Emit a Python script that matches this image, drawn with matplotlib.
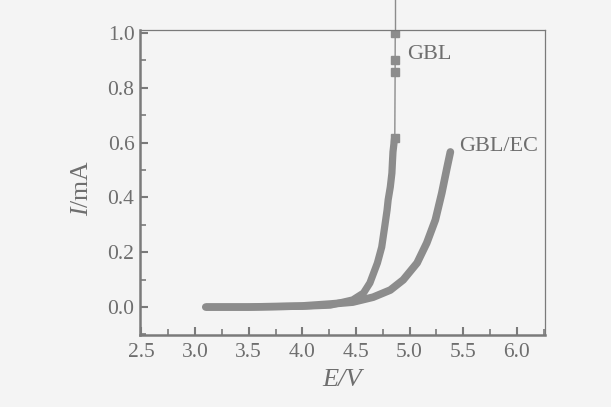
import matplotlib
matplotlib.use("Agg")
import matplotlib.pyplot as plt
from matplotlib.ticker import MultipleLocator

# ---- data ----
gbl_E = [3.10, 3.50, 4.00, 4.26, 4.47, 4.57, 4.63, 4.70, 4.74, 4.77, 4.79, 4.80, 4.82, 4.835, 4.84, 4.845, 4.86]
gbl_I = [0.000, 0.000, 0.003, 0.007, 0.026, 0.051, 0.088, 0.161, 0.219, 0.299, 0.354, 0.391, 0.438, 0.489, 0.529, 0.566, 0.617]
gbl_top_E = [4.862, 4.865, 4.865, 4.866]
gbl_top_I = [0.617, 0.858, 0.900, 1.000]
gbl_tail_E = [4.866, 4.866]
gbl_tail_I = [1.000, 1.125]

ec_E = [3.10, 3.50, 4.00, 4.26, 4.47, 4.66, 4.82, 4.94, 5.07, 5.16, 5.24, 5.30, 5.35, 5.38]
ec_I = [0.000, 0.000, 0.004, 0.011, 0.018, 0.036, 0.062, 0.099, 0.161, 0.234, 0.318, 0.416, 0.511, 0.566]

x_ticks = [2.5, 3.0, 3.5, 4.0, 4.5, 5.0, 5.5, 6.0]
y_ticks = [0.0, 0.2, 0.4, 0.6, 0.8, 1.0]
labels = ["GBL", "GBL/EC"]

gray = "#8c8c8c"
axcol = "#7a7a7a"
txtcol = "#6e6e6e"
bg = "#f4f4f4"

plt.rcParams['font.family'] = ['Liberation Serif', 'DejaVu Serif']
plt.rcParams['mathtext.fontset'] = 'custom'
plt.rcParams['mathtext.it'] = 'Liberation Serif:italic'
plt.rcParams['mathtext.rm'] = 'Liberation Serif'

fig = plt.figure(figsize=(6.11, 4.07), dpi=100, facecolor=bg)
ax = fig.add_axes([140/611, 1-335/407, (545-140)/611, (335-30)/407])
ax.set_facecolor(bg)

ax.plot(gbl_E, gbl_I, color=gray, lw=5.2, solid_capstyle='butt', solid_joinstyle='round')
ax.plot(gbl_top_E, gbl_top_I, color=gray, lw=1.0, marker='s', ms=5.5, mfc=gray, mec=gray)
ax.plot(gbl_tail_E, gbl_tail_I, color=gray, lw=1.0, clip_on=False)
ax.plot(ec_E, ec_I, color=gray, lw=5.5, solid_capstyle='round', solid_joinstyle='round')

ax.text(4.98, 0.92, labels[0], fontsize=16, color=txtcol, va='center', ha='left')
ax.text(5.46, 0.585, labels[1], fontsize=16, color=txtcol, va='center', ha='left')

ax.set_xlim(2.487, 6.262)
ax.set_ylim(-0.102, 1.011)
ax.set_xticks(x_ticks)
ax.set_yticks(y_ticks)
ax.set_xticklabels([f"{v:.1f}" for v in x_ticks])
ax.set_yticklabels([f"{v:.1f}" for v in y_ticks])
ax.xaxis.set_minor_locator(MultipleLocator(0.25))
ax.yaxis.set_minor_locator(MultipleLocator(0.1))

ax.tick_params(which='both', direction='in', top=False, right=False, color=axcol,
               labelcolor=txtcol, labelsize=15.5)
ax.tick_params(which='major', length=6, width=1.5)
ax.tick_params(which='minor', length=4, width=1.2)
ax.tick_params(axis='x', pad=6)
ax.tick_params(axis='y', pad=4)

for s in ['left', 'bottom']:
    ax.spines[s].set_color(axcol)
    ax.spines[s].set_linewidth(1.8)
for s in ['top', 'right']:
    ax.spines[s].set_color(axcol)
    ax.spines[s].set_linewidth(0.9)

ax.set_xlabel("E/V", fontsize=19, color=txtcol, style='italic', labelpad=5)
ax.set_ylabel("$I$/mA", fontsize=18.5, color=txtcol)
ax.yaxis.set_label_coords(-47/405, 0.483)

fig.savefig("out.png", dpi=100, facecolor=bg)
